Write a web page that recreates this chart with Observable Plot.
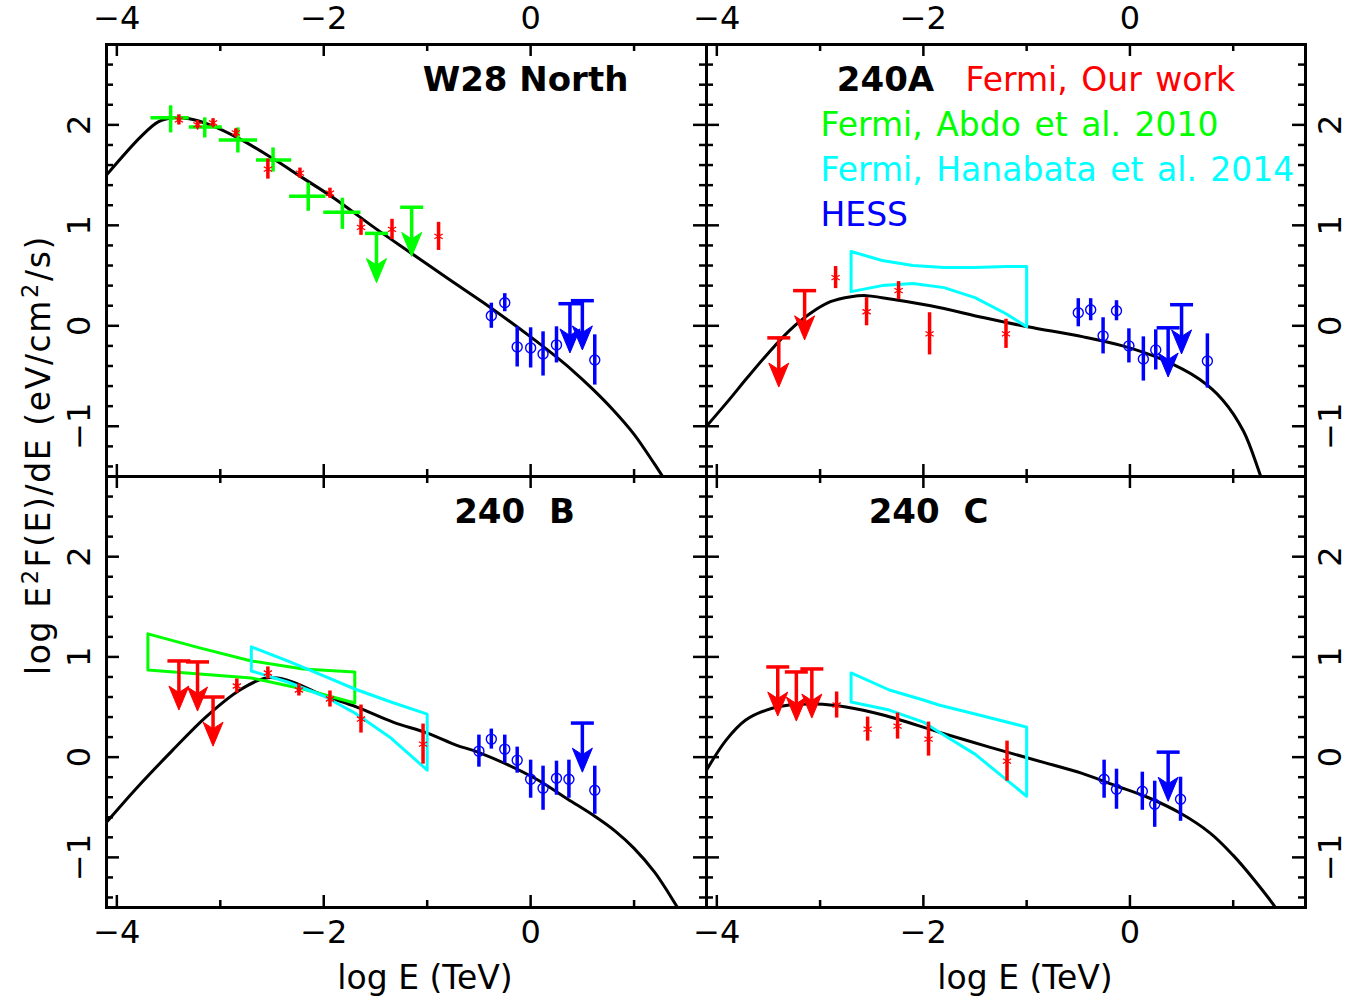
<!DOCTYPE html>
<html><head><meta charset="utf-8">
<script src="https://cdn.jsdelivr.net/npm/d3@7"></script>
<script src="https://cdn.jsdelivr.net/npm/@observablehq/plot@0.6"></script>
<style>
html,body{margin:0;padding:0;background:#fff;}
#wrap{position:relative;width:1363px;height:1003px;overflow:hidden;background:#fff;}
.panel{position:absolute;}
.lbl{position:absolute;font-family:"DejaVu Sans";font-size:33px;color:#000;white-space:nowrap;transform:translate(-50%,-50%);line-height:1;}
.sup{font-size:0.68em;position:relative;top:-0.55em;margin:0 1px;}
</style></head><body><div id="wrap"></div>
<script>
// ---------------- data ----------------
const xDomain = [-4.1, 1.7];
const yDomain = [-1.5, 2.8];
const xMajorTicks = [-4, -2, 0];
const xMinorTicks = [-3, -1, 1];
const xTickLabels = [-4, -2, 0];
const yMajorTicks = [-1, 0, 1, 2];
const yMinorTicks = [-1.4, -1.2, -0.8, -0.6, -0.4, -0.2, 0.2, 0.4, 0.6, 0.8, 1.2, 1.4, 1.6, 1.8, 2.2, 2.4, 2.6];
const yTickLabels = [-1, 0, 1, 2];
const panelTitles = ["W28 North", "240A", "240 B", "240 C"];
const legendLabels = ["Fermi, Our work", "Fermi, Abdo et al. 2010", "Fermi, Hanabata et al. 2014", "HESS"];
const xTitle = "log E (TeV)";
const yTitle = "log E\u00b2F(E)/dE (eV/cm\u00b2/s)";

// W28 North
const w28ModelX = [-4.1, -3.77, -3.6, -3.45, -3.3, -3.1, -2.83, -2.5, -2.2, -1.9, -1.5, -1.15, -0.8, -0.4, 0.0, 0.2, 0.4, 0.6, 0.8, 1.0, 1.2, 1.35];
const w28ModelY = [1.50, 1.88, 2.03, 2.07, 2.06, 2.0, 1.87, 1.67, 1.47, 1.27, 0.97, 0.72, 0.47, 0.19, -0.11, -0.27, -0.44, -0.63, -0.84, -1.08, -1.38, -1.62];
const w28FermiX = [-3.40, -3.22, -3.07, -2.85, -2.54, -2.23, -1.94, -1.64, -1.34, -0.89];
const w28FermiY = [2.05, 2.0, 2.02, 1.92, 1.56, 1.52, 1.32, 0.98, 0.96, 0.89];
const w28FermiErr = [0.05, 0.04, 0.04, 0.04, 0.1, 0.05, 0.05, 0.08, 0.1, 0.14];
const w28AbdoX = [-3.48, -3.15, -2.83, -2.49, -2.15, -1.82];
const w28AbdoXlo = [-3.67, -3.30, -3.01, -2.65, -2.33, -2.0];
const w28AbdoXhi = [-3.30, -2.98, -2.64, -2.31, -1.98, -1.64];
const w28AbdoY = [2.07, 1.98, 1.85, 1.65, 1.29, 1.13];
const w28AbdoYlo = [1.92, 1.87, 1.72, 1.53, 1.14, 0.96];
const w28AbdoYhi = [2.19, 2.07, 1.97, 1.77, 1.42, 1.27];
const w28AbdoUlX = [-1.49, -1.15];
const w28AbdoUlY = [0.92, 1.18];
const w28HessX = [-0.38, -0.25, -0.13, 0.0, 0.12, 0.25, 0.62];
const w28HessY = [0.10, 0.23, -0.21, -0.22, -0.28, -0.19, -0.34];
const w28HessErr = [0.125, 0.09, 0.2, 0.2, 0.22, 0.18, 0.25];
const w28HessUlX = [0.38, 0.50];
const w28HessUlY = [0.22, 0.25];

// 240A
const aModelX = [-4.1, -3.9, -3.7, -3.5, -3.3, -3.1, -2.9, -2.7, -2.55, -2.4, -1.93, -1.41, -0.99, -0.45, -0.07, 0.30, 0.67, 0.9, 1.1, 1.25, 1.35];
const aModelY = [-1.0, -0.76, -0.51, -0.27, -0.05, 0.12, 0.24, 0.29, 0.30, 0.28, 0.20, 0.08, -0.01, -0.11, -0.20, -0.33, -0.53, -0.74, -1.05, -1.45, -1.75];
const aFermiX = [-2.85, -2.55, -2.24, -1.94, -1.20];
const aFermiY = [0.48, 0.14, 0.35, -0.08, -0.08];
const aFermiErr = [0.11, 0.14, 0.09, 0.21, 0.145];
const aFermiUlX = [-3.40, -3.15];
const aFermiUlY = [-0.12, 0.35];
const aHessX = [-0.50, -0.38, -0.26, -0.13, -0.01, 0.13, 0.25, 0.75];
const aHessY = [0.13, 0.16, -0.10, 0.15, -0.20, -0.33, -0.24, -0.35];
const aHessErr = [0.14, 0.11, 0.18, 0.10, 0.17, 0.22, 0.2, 0.27];
const aHessUlX = [0.37, 0.50];
const aHessUlY = [-0.02, 0.21];
const aCyanX = [-2.7, -2.4, -2.1, -1.8, -1.5, -1.2, -1.0];
const aCyanHi = [0.74, 0.65, 0.60, 0.58, 0.58, 0.59, 0.59];
const aCyanLo = [0.34, 0.40, 0.42, 0.38, 0.28, 0.12, -0.01];

// 240 B
const bModelX = [-4.1, -3.81, -3.46, -3.14, -2.81, -2.56, -2.36, -2.01, -1.68, -1.33, -1.0, -0.72, -0.51, 0.04, 0.36, 0.62, 0.82, 1.0, 1.2, 1.42, 1.55];
const bModelY = [-0.65, -0.31, 0.07, 0.40, 0.67, 0.79, 0.77, 0.62, 0.50, 0.35, 0.24, 0.12, 0.05, -0.21, -0.42, -0.59, -0.74, -0.91, -1.15, -1.5, -1.72];
const bFermiX = [-2.84, -2.54, -2.24, -1.94, -1.64, -1.04];
const bFermiY = [0.71, 0.84, 0.67, 0.58, 0.38, 0.13];
const bFermiErr = [0.07, 0.06, 0.06, 0.08, 0.14, 0.2];
const bFermiUlX = [-3.40, -3.22, -3.07];
const bFermiUlY = [0.96, 0.95, 0.60];
const bHessX = [-0.50, -0.38, -0.25, -0.13, 0.0, 0.12, 0.25, 0.37, 0.62];
const bHessY = [0.06, 0.18, 0.08, -0.03, -0.22, -0.31, -0.21, -0.22, -0.33];
const bHessErr = [0.16, 0.10, 0.14, 0.13, 0.19, 0.22, 0.17, 0.19, 0.24];
const bHessUlX = [0.50];
const bHessUlY = [0.34];
const bGreenX = [-3.7, -3.2, -2.7, -2.2, -1.7];
const bGreenHi = [1.23, 1.09, 0.96, 0.88, 0.85];
const bGreenLo = [0.87, 0.83, 0.79, 0.68, 0.54];
const bCyanX = [-2.7, -2.35, -2.0, -1.7, -1.35, -1.0];
const bCyanHi = [1.10, 0.96, 0.81, 0.68, 0.55, 0.43];
const bCyanLo = [0.86, 0.75, 0.61, 0.44, 0.19, -0.13];

// 240 C
const cModelX = [-4.1, -3.91, -3.72, -3.52, -3.30, -3.04, -2.75, -2.39, -1.85, -1.36, -0.81, -0.47, -0.15, 0.17, 0.49, 0.78, 1.0, 1.2, 1.41, 1.55];
const cModelY = [-0.13, 0.17, 0.37, 0.47, 0.52, 0.53, 0.50, 0.42, 0.25, 0.10, -0.06, -0.16, -0.28, -0.40, -0.56, -0.76, -0.98, -1.22, -1.5, -1.72];
const cFermiX = [-2.84, -2.54, -2.25, -1.95, -1.19];
const cFermiY = [0.52, 0.28, 0.31, 0.18, -0.04];
const cFermiErr = [0.13, 0.12, 0.13, 0.17, 0.2];
const cFermiUlX = [-3.41, -3.23, -3.08];
const cFermiUlY = [0.90, 0.85, 0.88];
const cHessX = [-0.25, -0.13, 0.12, 0.24, 0.49];
const cHessY = [-0.22, -0.32, -0.34, -0.47, -0.42];
const cHessErr = [0.19, 0.2, 0.19, 0.23, 0.22];
const cHessUlX = [0.37];
const cHessUlY = [0.05];
const cCyanX = [-2.7, -2.33, -2.0, -1.85, -1.5, -1.0];
const cCyanHi = [0.84, 0.67, 0.57, 0.52, 0.43, 0.30];
const cCyanLo = [0.55, 0.47, 0.35, 0.25, 0.03, -0.39];

// ---------------- style ----------------
const RED = "#ff0000", GREEN = "#00ff00", CYAN = "#00ffff", BLUE = "#0000ff";
const FONT = "DejaVu Sans";
const ARROW_LEN = 0.49; // upper-limit arrow length (dex)
const titleWordSpacing = [0, 0, 12, 12];

const pts = (xs, ys, es) => xs.map((x, i) => ({x, y: ys[i], e: es ? es[i] : 0}));
const ul = (xs, ys) => xs.map((x, i) => ({x, y: ys[i]}));
const bowtie = (xs, hi, lo) => {
  const up = xs.map((x, i) => ({x, y: hi[i]}));
  const dn = xs.map((x, i) => ({x, y: lo[i]})).reverse();
  return [...up, ...dn, up[0]];
};
const fmt = d => (d < 0 ? "\u2212" + Math.abs(d) : String(d));

const capSymbol = {draw(ctx, size) { const r = Math.sqrt(size / Math.PI); ctx.moveTo(-r, 0); ctx.lineTo(r, 0); }};
const headSymbol = {draw(ctx, size) {
  const r = Math.sqrt(size / Math.PI);
  ctx.moveTo(0, 0); ctx.lineTo(-r, -2.4 * r); ctx.lineTo(0, -1.75 * r); ctx.lineTo(r, -2.4 * r); ctx.closePath();
}};

function upperLimits(data, color) {
  return [
    Plot.ruleX(data, {x: "x", y1: "y", y2: d => d.y - ARROW_LEN + 0.12, stroke: color, strokeWidth: 3.5}),
    Plot.dot(data, {x: "x", y: "y", symbol: capSymbol, r: 11.5, stroke: color, strokeWidth: 3.5, fill: "none"}),
    Plot.dot(data, {x: "x", y: d => d.y - ARROW_LEN, symbol: headSymbol, r: 10, fill: color, stroke: color, strokeWidth: 1})
  ];
}

const panels = [
  {left: 0, top: 0, w: 706, h: 476, mL: 106, mR: 0, mT: 44, mB: 0, xSide: "top", ySide: "left",
   titleIdx: 0, titleDx: 419,
   model: pts(w28ModelX, w28ModelY),
   fermi: pts(w28FermiX, w28FermiY, w28FermiErr), fermiUL: [],
   abdo: w28AbdoX.map((x, i) => ({x, y: w28AbdoY[i], xlo: w28AbdoXlo[i], xhi: w28AbdoXhi[i], ylo: w28AbdoYlo[i], yhi: w28AbdoYhi[i]})),
   abdoUL: ul(w28AbdoUlX, w28AbdoUlY),
   hess: pts(w28HessX, w28HessY, w28HessErr), hessUL: ul(w28HessUlX, w28HessUlY),
   cyan: null, green: null, legend: false},
  {left: 706, top: 0, w: 657, h: 476, mL: 0, mR: 58, mT: 44, mB: 0, xSide: "top", ySide: "right",
   titleIdx: 1, titleDx: 179,
   model: pts(aModelX, aModelY),
   fermi: pts(aFermiX, aFermiY, aFermiErr), fermiUL: ul(aFermiUlX, aFermiUlY),
   abdo: [], abdoUL: [],
   hess: pts(aHessX, aHessY, aHessErr), hessUL: ul(aHessUlX, aHessUlY),
   cyan: bowtie(aCyanX, aCyanHi, aCyanLo), green: null, legend: true},
  {left: 0, top: 476, w: 706, h: 527, mL: 106, mR: 0, mT: 0, mB: 96, xSide: "bottom", ySide: "left",
   titleIdx: 2, titleDx: 514 - 106,
   model: pts(bModelX, bModelY),
   fermi: pts(bFermiX, bFermiY, bFermiErr), fermiUL: ul(bFermiUlX, bFermiUlY),
   abdo: [], abdoUL: [],
   hess: pts(bHessX, bHessY, bHessErr), hessUL: ul(bHessUlX, bHessUlY),
   cyan: bowtie(bCyanX, bCyanHi, bCyanLo), green: bowtie(bGreenX, bGreenHi, bGreenLo), legend: false},
  {left: 706, top: 476, w: 657, h: 527, mL: 0, mR: 58, mT: 0, mB: 96, xSide: "bottom", ySide: "right",
   titleIdx: 3, titleDx: 928 - 706,
   model: pts(cModelX, cModelY),
   fermi: pts(cFermiX, cFermiY, cFermiErr), fermiUL: ul(cFermiUlX, cFermiUlY),
   abdo: [], abdoUL: [],
   hess: pts(cHessX, cHessY, cHessErr), hessUL: ul(cHessUlX, cHessUlY),
   cyan: bowtie(cCyanX, cCyanHi, cCyanLo), green: null, legend: false}
];

const legendColors = [RED, GREEN, CYAN, BLUE];
const legendDx = [259, 114, 114, 114];
const legendDy = [36, 81, 126, 171];

const wrap = document.getElementById("wrap");

for (const p of panels) {
  const fw = p.w - p.mL - p.mR, fh = p.h - p.mT - p.mB;
  const ux = (xDomain[1] - xDomain[0]) / fw;  // data units per px
  const uy = (yDomain[1] - yDomain[0]) / fh;
  const [x0, x1] = xDomain, [y0, y1] = yDomain;
  const tickMarks = (ticks, lenPx) => [
    Plot.ruleX(ticks, {x: d => d, y1: y0, y2: y0 + lenPx * uy, stroke: "black", strokeWidth: 2.5}),
    Plot.ruleX(ticks, {x: d => d, y1: y1 - lenPx * uy, y2: y1, stroke: "black", strokeWidth: 2.5})
  ];
  const tickMarksY = (ticks, lenPx) => [
    Plot.ruleY(ticks, {y: d => d, x1: x0, x2: x0 + lenPx * ux, stroke: "black", strokeWidth: 2.5}),
    Plot.ruleY(ticks, {y: d => d, x1: x1 - lenPx * ux, x2: x1, stroke: "black", strokeWidth: 2.5})
  ];
  const title = panelTitles[p.titleIdx];
  const marks = [
    ...tickMarks(xMajorTicks, 12), ...tickMarks(xMinorTicks, 7),
    ...tickMarksY(yMajorTicks, 13), ...tickMarksY(yMinorTicks, 7),
    Plot.text(xTickLabels, {x: d => d, frameAnchor: p.xSide, text: fmt, dy: p.xSide === "top" ? -26 : 25,
      lineAnchor: "middle", textAnchor: "middle", fontSize: 32, fontFamily: FONT, fill: "black"}),
    Plot.text(yTickLabels, {y: d => d, frameAnchor: p.ySide, text: fmt, rotate: -90, dx: p.ySide === "left" ? -27 : 25,
      lineAnchor: "middle", textAnchor: "middle", fontSize: 32, fontFamily: FONT, fill: "black"}),
    Plot.line(p.model, {x: "x", y: "y", stroke: "black", strokeWidth: 3, curve: "catmull-rom", clip: true})
  ];
  if (p.green) marks.push(Plot.line(p.green, {x: "x", y: "y", stroke: GREEN, strokeWidth: 3, curve: "linear"}));
  if (p.cyan) marks.push(Plot.line(p.cyan, {x: "x", y: "y", stroke: CYAN, strokeWidth: 3, curve: "linear"}));
  marks.push(
    Plot.ruleY(p.abdo, {y: "y", x1: "xlo", x2: "xhi", stroke: GREEN, strokeWidth: 3.5}),
    Plot.ruleX(p.abdo, {x: "x", y1: "ylo", y2: "yhi", stroke: GREEN, strokeWidth: 3.5}),
    ...upperLimits(p.abdoUL, GREEN)
  );
  marks.push(
    Plot.ruleX(p.fermi, {x: "x", y1: d => d.y - d.e, y2: d => d.y + d.e, stroke: RED, strokeWidth: 3.5}),
    Plot.dot(p.fermi, {x: "x", y: "y", symbol: "asterisk", r: 4.5, stroke: RED, strokeWidth: 1.3}),
    ...upperLimits(p.fermiUL, RED)
  );
  marks.push(
    Plot.ruleX(p.hess, {x: "x", y1: d => d.y - d.e, y2: d => d.y + d.e, stroke: BLUE, strokeWidth: 3.5}),
    Plot.dot(p.hess, {x: "x", y: "y", symbol: "circle", r: 5, stroke: BLUE, strokeWidth: 1.4, fill: "none"}),
    ...upperLimits(p.hessUL, BLUE)
  );
  marks.push(Plot.text([title], {frameAnchor: "top-left", text: d => d, dx: p.titleDx, dy: 36,
    lineAnchor: "middle", textAnchor: "middle",
    fontSize: 34, fontWeight: "bold", fontFamily: FONT, fill: "black"}));
  if (p.legend) {
    marks.push(Plot.text(legendLabels, {frameAnchor: "top-left", text: d => d, textAnchor: "start",
      lineAnchor: "middle", fontSize: 33, fontFamily: FONT,
      fill: d => legendColors[legendLabels.indexOf(d)]}));
  }
  marks.push(Plot.frame({stroke: "black", strokeWidth: 3}));

  const chart = Plot.plot({
    width: p.w, height: p.h,
    marginLeft: p.mL, marginRight: p.mR, marginTop: p.mT, marginBottom: p.mB,
    x: {domain: xDomain, axis: null},
    y: {domain: yDomain, axis: null},
    color: {type: "identity"},
    style: {background: "transparent", overflow: "visible", fontFamily: FONT},
    marks
  });
  chart.querySelectorAll("text").forEach(t => {
    const k = legendLabels.indexOf(t.textContent);
    if (p.legend && k >= 0) {
      const tr = t.getAttribute("transform") || "";
      t.setAttribute("transform", tr + ` translate(${legendDx[k]},${legendDy[k]})`);
      t.style.wordSpacing = "3px";
    }
    if (t.textContent === title) t.style.wordSpacing = titleWordSpacing[p.titleIdx] + "px";
  });
  chart.classList.add("panel");
  chart.style.left = p.left + "px";
  chart.style.top = p.top + "px";
  chart.style.position = "absolute";
  wrap.appendChild(chart);
}

// axis titles
function addLabel(text, x, y, rot) {
  const d = document.createElement("div");
  d.className = "lbl";
  text.split("\u00b2").forEach((part, i) => {
    if (i > 0) { const s = document.createElement("span"); s.className = "sup"; s.textContent = "2"; d.appendChild(s); }
    d.appendChild(document.createTextNode(part));
  });
  d.style.left = x + "px";
  d.style.top = y + "px";
  if (rot) { d.style.transform = `translate(-50%,-50%) rotate(${rot}deg)`; d.style.letterSpacing = "1.6px"; }
  wrap.appendChild(d);
}
addLabel(xTitle, 425, 977, 0);
addLabel(xTitle, 1025, 977, 0);
addLabel(yTitle, 38, 455, -90);
</script></body></html>
